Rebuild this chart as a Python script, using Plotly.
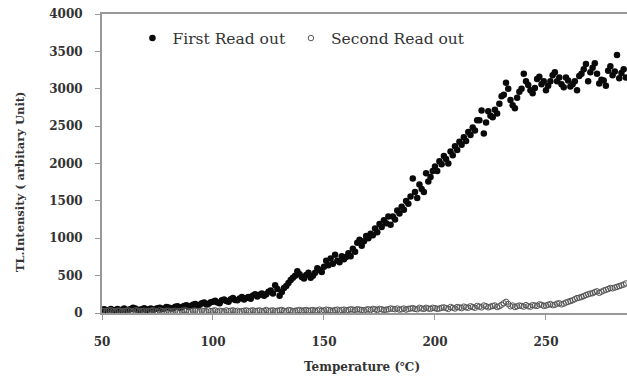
import plotly.graph_objects as go

temperature = [
    50, 51, 52, 53, 54, 55, 56, 57, 58, 59,
    60, 61, 62, 63, 64, 65, 66, 67, 68, 69,
    70, 71, 72, 73, 74, 75, 76, 77, 78, 79,
    80, 81, 82, 83, 84, 85, 86, 87, 88, 89,
    90, 91, 92, 93, 94, 95, 96, 97, 98, 99,
    100, 101, 102, 103, 104, 105, 106, 107, 108, 109,
    110, 111, 112, 113, 114, 115, 116, 117, 118, 119,
    120, 121, 122, 123, 124, 125, 126, 127, 128, 129,
    130, 131, 132, 133, 134, 135, 136, 137, 138, 139,
    140, 141, 142, 143, 144, 145, 146, 147, 148, 149,
    150, 151, 152, 153, 154, 155, 156, 157, 158, 159,
    160, 161, 162, 163, 164, 165, 166, 167, 168, 169,
    170, 171, 172, 173, 174, 175, 176, 177, 178, 179,
    180, 181, 182, 183, 184, 185, 186, 187, 188, 189,
    190, 191, 192, 193, 194, 195, 196, 197, 198, 199,
    200, 201, 202, 203, 204, 205, 206, 207, 208, 209,
    210, 211, 212, 213, 214, 215, 216, 217, 218, 219,
    220, 221, 222, 223, 224, 225, 226, 227, 228, 229,
    230, 231, 232, 233, 234, 235, 236, 237, 238, 239,
    240, 241, 242, 243, 244, 245, 246, 247, 248, 249,
    250, 251, 252, 253, 254, 255, 256, 257, 258, 259,
    260, 261, 262, 263, 264, 265, 266, 267, 268, 269,
    270, 271, 272, 273, 274, 275, 276, 277, 278, 279,
    280, 281, 282, 283, 284, 285, 286,
]

first_read = [
    45, 50, 30, 40, 55, 30, 40, 55, 35, 45,
    60, 35, 45, 55, 70, 60, 40, 45, 50, 65,
    35, 50, 60, 40, 55, 65, 70, 55, 60, 80,
    75, 60, 65, 85, 90, 70, 80, 95, 105, 85,
    95, 110, 120, 100, 110, 130, 140, 115, 125, 145,
    150, 165, 140, 130, 170, 180, 160, 150, 185, 200,
    175, 170, 195, 215, 180, 200, 215, 190, 235, 250,
    220, 245, 260, 230, 250, 285, 300, 260, 370, 320,
    230, 280, 335, 360, 400, 440, 470, 500, 560, 520,
    480, 460, 510, 540, 470, 500, 540, 600, 575, 550,
    620, 700, 640, 730, 660, 780, 700, 680, 760, 720,
    750, 800, 760, 860, 820, 940, 980, 900, 960, 1030,
    1000, 1060, 1040, 1130, 1080, 1190, 1150, 1240, 1200, 1290,
    1180, 1290, 1250, 1370, 1330, 1420, 1380, 1500, 1460, 1560,
    1800, 1620, 1540, 1720, 1660, 1620, 1870, 1760, 1820, 1900,
    1960, 1900, 2030, 1990, 2100, 2060, 2000, 2160, 2110, 2230,
    2180, 2290, 2250, 2350, 2300, 2420, 2380, 2480, 2440, 2580,
    2580, 2710, 2400, 2550, 2700, 2640, 2620, 2720, 2670, 2800,
    2900, 2920, 3080, 3000, 2850, 2780, 2740, 2880, 2960, 3000,
    3200, 3100, 3050, 2980, 2940, 3010, 3130, 3160, 3060, 3100,
    2980, 3040, 3100, 3180, 3220, 3100, 3150, 3060, 3020, 3150,
    3110, 3030, 3060, 3100, 2980, 3170, 3200, 3260, 3330, 3100,
    3220, 3280, 3340, 3200, 3070, 3120, 3110, 3040, 3240, 3300,
    3180, 3230, 3450, 3140, 3210, 3260, 3150,
]

second_read = [
    30, 25, 25, 35, 35, 25, 20, 30, 30, 20,
    25, 30, 35, 25, 20, 35, 30, 20, 25, 30,
    20, 25, 30, 35, 25, 20, 35, 25, 20, 30,
    30, 20, 25, 30, 20, 25, 30, 35, 35, 20,
    25, 30, 30, 25, 20, 30, 25, 20, 35, 25,
    30, 35, 20, 30, 25, 20, 35, 25, 30, 35,
    25, 30, 20, 25, 30, 35, 25, 30, 35, 25,
    30, 35, 25, 30, 40, 25, 30, 35, 25, 30,
    35, 40, 30, 25, 40, 35, 25, 30, 35, 40,
    30, 35, 40, 30, 35, 40, 30, 35, 45, 30,
    35, 45, 40, 35, 30, 40, 45, 35, 40, 45,
    35, 40, 50, 45, 40, 50, 45, 40, 35, 45,
    50, 40, 55, 50, 40, 55, 50, 40, 45, 50,
    60, 55, 50, 60, 45, 50, 60, 45, 55, 60,
    65, 55, 50, 70, 60, 55, 70, 60, 55, 70,
    65, 55, 60, 70, 75, 65, 55, 80, 70, 60,
    80, 75, 65, 85, 75, 70, 90, 80, 70, 95,
    85, 75, 100, 90, 75, 85, 95, 100, 80, 90,
    110, 130, 150, 120, 90, 100, 80, 90, 100, 95,
    85, 105, 90, 85, 105, 100, 95, 115, 110, 95,
    100, 110, 120, 105, 110, 125, 130, 115, 125, 140,
    150, 160, 170, 185, 200, 205, 215, 225, 240, 250,
    260, 265, 280, 290, 270, 285, 300, 310, 320, 335,
    330, 340, 350, 360, 370, 380, 395,
]

x_ticks = [50, 100, 150, 200, 250]
y_ticks = [0, 500, 1000, 1500, 2000, 2500, 3000, 3500, 4000]

fig = go.Figure()
fig.add_trace(go.Scatter(
    x=temperature, y=first_read, mode="markers", name="First Read out",
    marker=dict(symbol="circle", size=6.5, color="#0a0a0a", line=dict(width=0)),
))
fig.add_trace(go.Scatter(
    x=temperature, y=second_read, mode="markers", name="Second Read out",
    marker=dict(symbol="circle-open", size=5.5, color="#555555", line=dict(width=1)),
))

tick_font = dict(family="DejaVu Serif", size=12, color="#333333", weight="bold")
fig.update_layout(
    width=627, height=380,
    margin=dict(l=102, r=0, t=14, b=67),
    paper_bgcolor="white", plot_bgcolor="white",
    showlegend=True,
    legend=dict(orientation="h", x=0.058, y=0.975, xanchor="left", yanchor="top",
                font=dict(family="DejaVu Serif", size=15.5, color="#333333"),
                bgcolor="rgba(0,0,0,0)", itemwidth=30, tracegroupgap=0),
    xaxis=dict(range=[50, 286.5], tickvals=x_ticks, showgrid=False, zeroline=False,
               showline=True, linecolor="#999999", linewidth=2, mirror=True,
               ticks="outside", ticklen=5, tickcolor="#999999", tickwidth=1,
               ticklabelstandoff=12, tickfont=tick_font),
    yaxis=dict(range=[0, 4000], tickvals=y_ticks, showgrid=False, zeroline=False,
               showline=True, linecolor="#999999", linewidth=2,
               ticks="outside", ticklen=5, tickcolor="#999999", tickwidth=1,
               ticklabelstandoff=10, tickfont=tick_font),
    annotations=[
        dict(text="Temperature (℃)", xref="paper", yref="paper", x=0.495, y=-0.18,
             xanchor="center", yanchor="middle", showarrow=False,
             font=dict(family="DejaVu Serif", size=12, color="#333333", weight="bold")),
        dict(text="TL.Intensity ( arbitary Unit)", xref="paper", yref="paper",
             x=-0.155, y=0.44, xanchor="center", yanchor="middle", textangle=-90,
             showarrow=False,
             font=dict(family="DejaVu Serif", size=11.5, color="#333333", weight="bold")),
    ],
)

fig.write_html("out.html")
